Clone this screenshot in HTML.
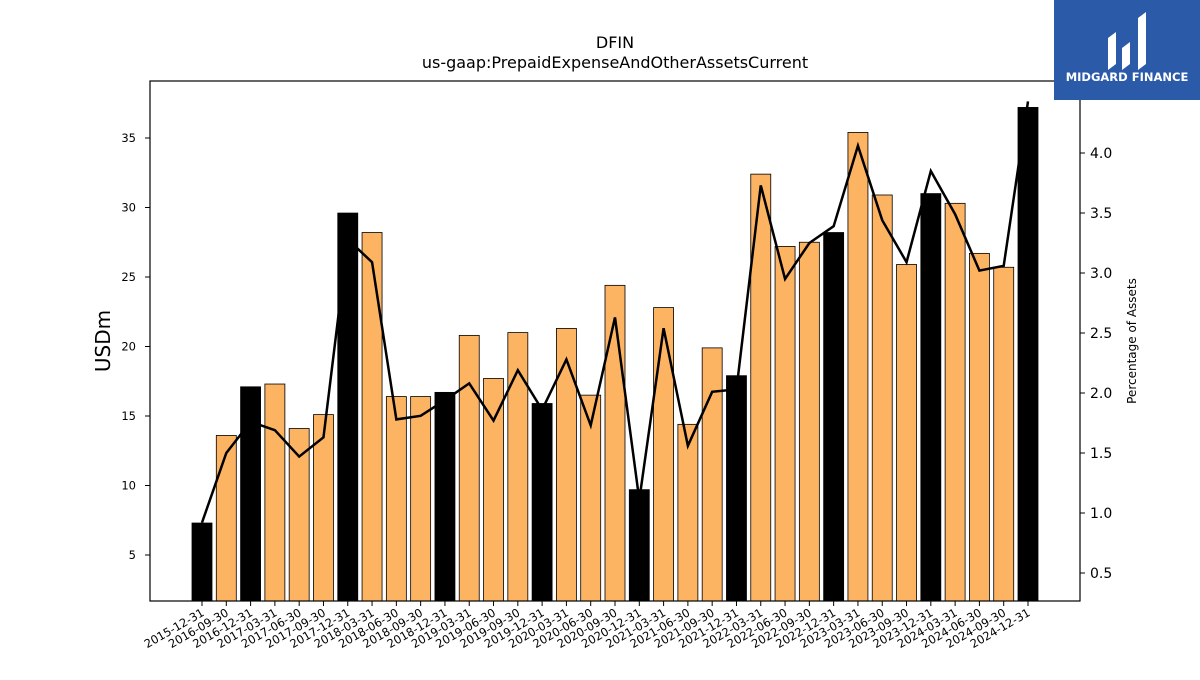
<!DOCTYPE html>
<html><head><meta charset="utf-8"><style>
body{margin:0;background:#fff;font-family:"Liberation Sans","DejaVu Sans",sans-serif}
svg text{font-family:"DejaVu Sans","Liberation Sans",sans-serif}
</style></head><body>
<svg width="1200" height="675" viewBox="0 0 1200 675">
<text x="615" y="48" font-size="16" text-anchor="middle">DFIN</text>
<text x="615" y="68" font-size="16" text-anchor="middle">us-gaap:PrepaidExpenseAndOtherAssetsCurrent</text>
<g id="bars"></g><g id="line"></g><g id="axes"></g>
<rect x="150" y="81" width="930" height="520" fill="none" stroke="#000" stroke-width="1.2"/>
<text transform="translate(110,341) rotate(-90)" font-size="20" text-anchor="middle">USDm</text>
<text transform="translate(1136,341) rotate(-90)" font-size="12" text-anchor="middle">Percentage of Assets</text>
<g>
<rect x="1054" y="0" width="146" height="100" fill="#2b5aa9"/>
<path d="M1108 70 L1108 38 L1116 32 L1116 64 Z M1122 70 L1122 48 L1130 42 L1130 64 Z M1138 70 L1138 18 L1146 12 L1146 64 Z" fill="#fff"/>
<text x="1127" y="81" font-size="11.5" font-weight="bold" fill="#fff" text-anchor="middle">MIDGARD FINANCE</text>
</g>
</svg>
<script>
const categories=["2015-12-31","2016-09-30","2016-12-31","2017-03-31","2017-06-30","2017-09-30","2017-12-31","2018-03-31","2018-06-30","2018-09-30","2018-12-31","2019-03-31","2019-06-30","2019-09-30","2019-12-31","2020-03-31","2020-06-30","2020-09-30","2020-12-31","2021-03-31","2021-06-30","2021-09-30","2021-12-31","2022-03-31","2022-06-30","2022-09-30","2022-12-31","2023-03-31","2023-06-30","2023-09-30","2023-12-31","2024-03-31","2024-06-30","2024-09-30","2024-12-31"];
const values=[7.3,13.6,17.1,17.3,14.1,15.1,29.6,28.2,16.4,16.4,16.7,20.8,17.7,21.0,15.9,21.3,16.5,24.4,9.7,22.8,14.4,19.9,17.9,32.4,27.2,27.5,28.2,35.4,30.9,25.9,31.0,30.3,26.7,25.7,37.2];
const pct=[0.92,1.5,1.76,1.69,1.47,1.63,3.28,3.09,1.78,1.81,1.94,2.08,1.77,2.19,1.86,2.28,1.73,2.63,1.11,2.54,1.56,2.01,2.03,3.73,2.95,3.25,3.39,4.06,3.44,3.09,3.85,3.49,3.02,3.06,4.43];
const leftTicks=[5,10,15,20,25,30,35];
const rightTicks=[0.5,1.0,1.5,2.0,2.5,3.0,3.5,4.0];
const NS="http://www.w3.org/2000/svg";
const yL=v=>555-(v-5)*13.9;
const yR=v=>153-(v-4)*120;
const xC=i=>202+i*(1028-202)/34;
const bottom=601;
function mk(t,a,p){const e=document.createElementNS(NS,t);for(const k in a)e.setAttribute(k,a[k]);p.appendChild(e);return e;}
const gb=document.getElementById('bars'),gl=document.getElementById('line'),ga=document.getElementById('axes');
categories.forEach((c,i)=>{
 const y=yL(values[i]);
 const r=mk('rect',{x:xC(i)-10,y:y,width:20,height:bottom-y,fill:c.endsWith('12-31')?'#000':'#fdb462',stroke:'#000','stroke-width':0.8},gb);
 
 
 const t=mk('line',{x1:xC(i),x2:xC(i),y1:bottom,y2:bottom+5,stroke:'#000'},ga);
 
 
 const l=mk('text',{transform:`translate(${xC(i)+3},${bottom+14}) rotate(-30)`,'font-size':11.5,'text-anchor':'end'},ga);
 l.textContent=c;
 
 
});
const pl=mk('polyline',{points:pct.map((v,i)=>xC(i)+','+yR(v)).join(' '),fill:'none',stroke:'#000','stroke-width':2.5},gl);


leftTicks.forEach(v=>{
 const t=mk('line',{x1:145,x2:150,y1:yL(v),y2:yL(v),stroke:'#000'},ga);
 
 
 const l=mk('text',{x:136,y:yL(v)+4,'font-size':11.5,'text-anchor':'end'},ga);
 l.textContent=v;
 
 
});
rightTicks.forEach(v=>{
 const t=mk('line',{x1:1080,x2:1085,y1:yR(v),y2:yR(v),stroke:'#000'},ga);
 
 
 const l=mk('text',{x:1090,y:yR(v)+5,'font-size':14},ga);
 l.textContent=v.toFixed(1);
 
 
});
</script>
</body></html>
